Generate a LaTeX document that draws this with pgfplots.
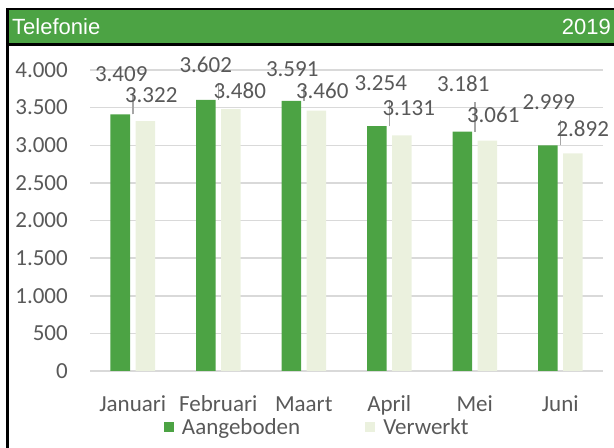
\documentclass[border=0pt]{standalone}
\usepackage{pgfplots}
\pgfplotsset{compat=1.18}
\usepackage{pgfplotstable}
\usepackage{fontspec}
\setmainfont{Carlito}
\newfontfamily\titlefont{Liberation Sans}
\definecolor{barA}{HTML}{4CA344}
\definecolor{barB}{HTML}{EBF1DE}
\definecolor{txt}{HTML}{595959}
\definecolor{gridc}{HTML}{D9D9D9}
\definecolor{lead}{HTML}{A6A6A6}
\definecolor{head}{HTML}{4CA344}

% dx/dy: label centre offset from the bar top centre (in px), incl. bar shift
\pgfplotstableread{
x y err dx dy
0 3409 286 -11.5 40.5
1 3602 226 -12.5 35
2 3591 183 -11.5 32
3 3254 346 -8.5 43
4 3181 393 -11.5 47.6
5 2999 332 -11.5 43
}\aanTable
\pgfplotstableread{
x y dx dy
0 3322 18.5 26
1 3480 21.5 18
2 3460 18.5 20
3 3131 19.5 27
4 3061 18.5 26
5 2892 22.5 25
}\verTable

\begin{document}
\fontsize{23bp}{27bp}\selectfont
\begin{tikzpicture}
\path[use as bounding box] (0bp,0bp) rectangle (614bp,448bp);
\fill[black] (6bp,402bp) rectangle (614bp,440bp);
\fill[head] (8.5bp,405bp) rectangle (614bp,438bp);
\fill[black] (6bp,0bp) rectangle (8.5bp,440bp);
\node[anchor=west, text=white, font=\titlefont\fontsize{22bp}{26bp}\selectfont, inner sep=0pt] at (12bp,421.5bp) {Telefonie};
\node[anchor=east, text=white, font=\titlefont\fontsize{22bp}{26bp}\selectfont, inner sep=0pt] at (611bp,421.5bp) {2019};
\begin{axis}[
  at={(90bp,77bp)}, anchor=south west,
  scale only axis, width=513bp, height=301bp,
  xmin=-0.5, xmax=5.5, ymin=0, ymax=4000,
  ytick={0,500,...,4000},
  xtick={0,...,5},
  xticklabels={Januari,Februari,Maart,April,Mei,Juni},
  ymajorgrids, grid style={gridc, line width=1.5bp},
  axis line style={draw=none},
  major tick length=0pt, tick style={draw=none},
  /pgf/number format/.cd, use comma, 1000 sep={.}, assume math mode=true,
  /pgfplots/.cd,
  yticklabel style={font=\fontsize{23bp}{27bp}\selectfont, text=txt, anchor=east, inner sep=0pt, xshift=-22bp},
  xticklabel style={font=\fontsize{23bp}{27bp}\selectfont, text=txt, anchor=base, inner sep=0pt, yshift=-40bp},
  legend columns=2,
  legend image code/.code={\fill[#1] (0bp,-4bp) rectangle (10bp,6bp);},
  legend style={at={(axis description cs:0.441,-0.189)}, anchor=center, draw=none, fill=none, inner sep=0pt,
    nodes={inner sep=0pt, text=txt, font=\fontsize{23bp}{27bp}\selectfont},
    /tikz/every odd column/.append style={column sep=8bp},
    /tikz/every even column/.append style={column sep=65bp}},
]
\addplot[ybar, bar width=19.5bp, bar shift=-12.5bp, fill=barA, draw=none,
  nodes near coords,
  visualization depends on={\thisrow{dx} \as \ldx},
  visualization depends on={\thisrow{dy} \as \ldy},
  every node near coord/.append style={anchor=center, xshift=\ldx*1bp, yshift=\ldy*1bp, text=txt, font=\fontsize{23bp}{27bp}\selectfont, inner sep=0pt},
  error bars/.cd, y dir=plus, y explicit, error mark=none, error bar style={lead, line width=1.5bp}]
  table[x=x, y=y, y error=err] {\aanTable};
\addlegendentry{Aangeboden}
\addplot[ybar, bar width=19.5bp, bar shift=12.5bp, fill=barB, draw=none,
  nodes near coords,
  visualization depends on={\thisrow{dx} \as \ldx},
  visualization depends on={\thisrow{dy} \as \ldy},
  every node near coord/.append style={anchor=center, xshift=\ldx*1bp, yshift=\ldy*1bp, text=txt, font=\fontsize{23bp}{27bp}\selectfont, inner sep=0pt}]
  table[x=x, y=y] {\verTable};
\addlegendentry{Verwerkt}
\end{axis}
\end{tikzpicture}
\end{document}
